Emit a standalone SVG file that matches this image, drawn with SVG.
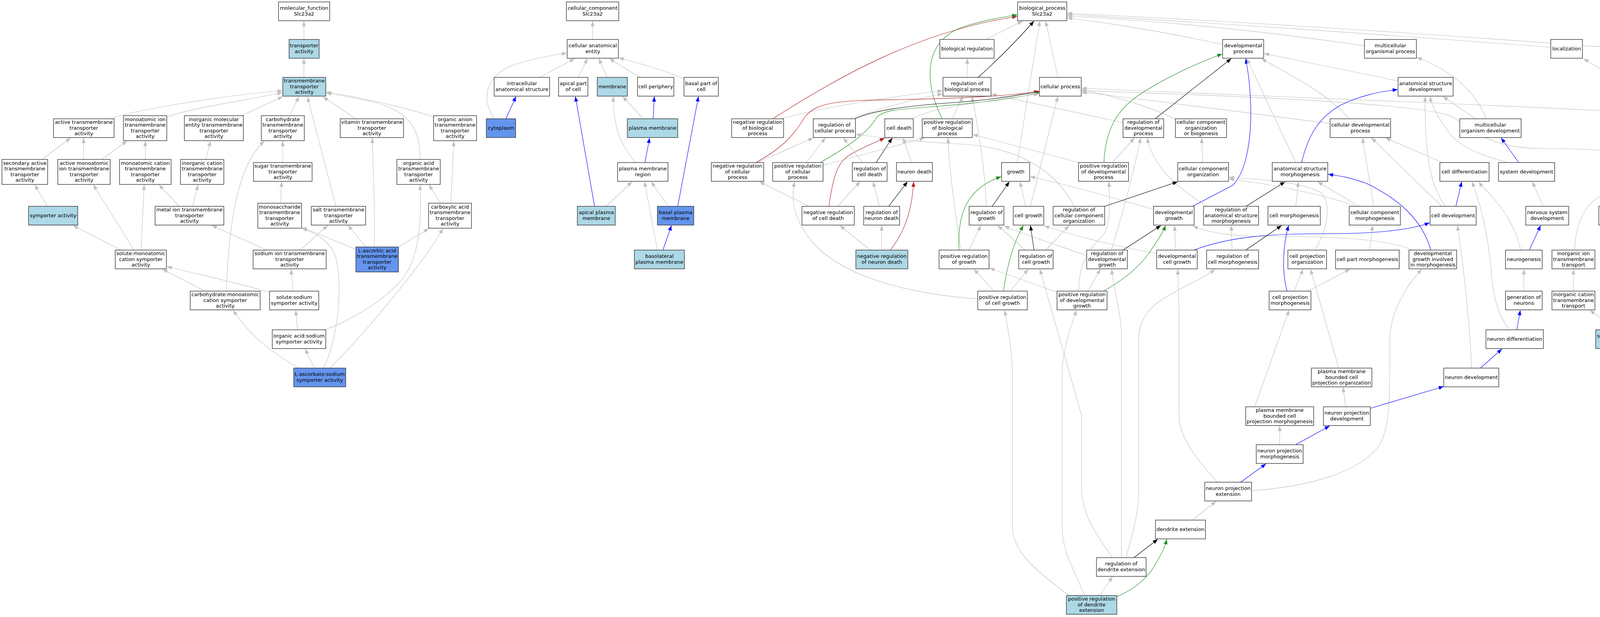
<svg xmlns="http://www.w3.org/2000/svg" width="5651" height="1579" viewBox="0 0 5651 1579">
<style>
.n rect{fill:#fff;stroke:#333;stroke-width:1.4}
.lb rect{fill:#add8e6}
.cb rect{fill:#6495ed}
text{font-family:"DejaVu Sans","Liberation Sans",sans-serif;font-size:13px;text-anchor:middle;fill:#000}
#edges path{fill:none;stroke-width:1.15}
.g{stroke:#c0c0c0;marker-end:url(#ag)}
.k{stroke:#000;marker-end:url(#ak)}
.b{stroke:#0000ff;marker-end:url(#ab)}
.gr{stroke:#228b22;marker-end:url(#agr)}
.r{stroke:#b22222;marker-end:url(#ar)}
</style>
<defs>
<marker id="ag" viewBox="0 0 13 10" refX="13" refY="5" markerWidth="13" markerHeight="10" markerUnits="userSpaceOnUse" orient="auto"><path d="M0,0L13,5L0,10z" fill="#c0c0c0"/></marker>
<marker id="ak" viewBox="0 0 13 10" refX="13" refY="5" markerWidth="13" markerHeight="10" markerUnits="userSpaceOnUse" orient="auto"><path d="M0,0L13,5L0,10z" fill="#000"/></marker>
<marker id="ab" viewBox="0 0 13 10" refX="13" refY="5" markerWidth="13" markerHeight="10" markerUnits="userSpaceOnUse" orient="auto"><path d="M0,0L13,5L0,10z" fill="#0000ff"/></marker>
<marker id="agr" viewBox="0 0 13 10" refX="13" refY="5" markerWidth="13" markerHeight="10" markerUnits="userSpaceOnUse" orient="auto"><path d="M0,0L13,5L0,10z" fill="#228b22"/></marker>
<marker id="ar" viewBox="0 0 13 10" refX="13" refY="5" markerWidth="13" markerHeight="10" markerUnits="userSpaceOnUse" orient="auto"><path d="M0,0L13,5L0,10z" fill="#b22222"/></marker>
</defs>
<rect x="0" y="0" width="5651" height="1579" fill="#fff"/>
<g id="edges">
<path class="g" d="M778,101 L778,54"/>
<path class="g" d="M778,198 L778,150"/>
<path class="g" d="M282,304 C330,285 560,245 723,232"/>
<path class="g" d="M428,300 C470,280 620,258 723,237"/>
<path class="g" d="M618,296 L724,247"/>
<path class="g" d="M742,296 L765,247"/>
<path class="g" d="M860,528 L787,248"/>
<path class="g" d="M911,304 L827,248"/>
<path class="g" d="M1112,299 C1020,270 900,245 835,236"/>
<path class="g" d="M1075,408 C1080,320 1030,280 960,262 C910,250 860,242 835,238"/>
<path class="g" d="M107,408 L181,353"/>
<path class="g" d="M214,408 L214,353"/>
<path class="g" d="M260,408 L325,361"/>
<path class="g" d="M372,408 L372,361"/>
<path class="g" d="M527,408 L539,361"/>
<path class="g" d="M724,416 L724,361"/>
<path class="g" d="M579,745 C587,560 610,420 677,361"/>
<path class="g" d="M121,528 L89,473"/>
<path class="g" d="M718,520 L721,465"/>
<path class="g" d="M459,528 L407,473"/>
<path class="g" d="M493,528 L507,473"/>
<path class="g" d="M309,640 L187,577"/>
<path class="g" d="M343,640 L239,473"/>
<path class="g" d="M361,640 L369,473"/>
<path class="g" d="M683,640 L542,577"/>
<path class="g" d="M769,640 L839,577"/>
<path class="g" d="M937,632 L891,577"/>
<path class="g" d="M911,638 L773,582"/>
<path class="g" d="M828,942 C860,880 880,750 860,660 C848,620 810,595 773,585"/>
<path class="g" d="M958,632 C960,520 955,420 953,353"/>
<path class="g" d="M525,745 L416,689"/>
<path class="g" d="M690,748 C600,722 500,700 427,682"/>
<path class="g" d="M750,745 L745,689"/>
<path class="g" d="M762,844 L757,794"/>
<path class="g" d="M805,942 L781,893"/>
<path class="g" d="M765,942 C700,905 640,860 597,794"/>
<path class="g" d="M844,942 C920,870 1080,680 1134,585"/>
<path class="g" d="M831,844 C900,820 1000,760 1040,700 C1075,640 1080,560 1075,473"/>
<path class="g" d="M1128,520 L1098,473"/>
<path class="g" d="M1154,520 L1162,361"/>
<path class="g" d="M1020,632 L1098,585"/>
<path class="g" d="M1517,101 L1517,54"/>
<path class="g" d="M1265,304 C1230,250 1245,195 1310,168 C1360,150 1420,140 1451,136"/>
<path class="g" d="M1381,198 L1471,150"/>
<path class="g" d="M1480,198 L1504,150"/>
<path class="g" d="M1554,198 L1533,150"/>
<path class="g" d="M1638,198 L1560,150"/>
<path class="g" d="M1750,201 C1700,180 1630,160 1584,148"/>
<path class="b" d="M1295,304 L1321,247"/>
<path class="b" d="M1522,528 L1473,247"/>
<path class="g" d="M1647,304 L1594,247"/>
<path class="b" d="M1672,304 L1675,247"/>
<path class="b" d="M1735,528 L1788,247"/>
<path class="b" d="M1651,416 L1663,353"/>
<path class="g" d="M1626,416 C1590,370 1570,330 1570,247"/>
<path class="g" d="M1552,528 L1618,465"/>
<path class="g" d="M1711,528 L1667,465"/>
<path class="b" d="M1697,640 L1719,577"/>
<path class="g" d="M1683,640 L1650,465"/>
<path class="g" d="M2523,101 L2618,54"/>
<path class="g" d="M2476,198 L2476,150"/>
<path class="k" d="M2504,198 Q2580,130 2647,54"/>
<path class="g" d="M2604,416 L2662,54"/>
<path class="g" d="M2708,198 L2677,54"/>
<path class="r" d="M1978,304 C2150,195 2350,80 2604,42"/>
<path class="gr" d="M2412,304 C2370,220 2360,120 2450,75 C2500,55 2560,45 2604,38"/>
<path class="g" d="M3130,114 C3000,85 2850,60 2732,46"/>
<path class="g" d="M3493,117 Q3100,60 2732,41"/>
<path class="g" d="M3970,121 Q3300,70 2732,37"/>
<path class="g" d="M5171,214 C4700,160 3500,70 2732,34"/>
<path class="g" d="M2000,304 C2100,275 2300,245 2413,232"/>
<path class="g" d="M2175,304 C2230,285 2330,255 2413,240"/>
<path class="g" d="M2437,304 L2465,247"/>
<path class="g" d="M2875,314 L2538,241"/>
<path class="g" d="M2525,528 C2522,440 2505,330 2488,247"/>
<path class="k" d="M2188,304 C2230,285 2300,272 2450,262 C2550,255 2620,240 2660,235"/>
<path class="r" d="M1935,416 C2000,380 2030,350 2060,300 C2090,260 2150,257 2300,255 C2450,252 2600,245 2660,233"/>
<path class="gr" d="M2100,416 C2180,370 2220,340 2245,300 C2265,280 2300,280 2400,272 C2520,262 2610,250 2660,237"/>
<path class="g" d="M2336,304 C2370,280 2500,262 2660,240"/>
<path class="g" d="M2638,528 L2708,247"/>
<path class="g" d="M3009,305 C2950,275 2850,245 2769,230"/>
<path class="g" d="M3405,316 C3200,290 2900,250 2769,236"/>
<path class="g" d="M4938,322 C4500,300 3300,245 2769,226"/>
<path class="g" d="M4284,416 C4200,390 4100,380 3950,380 C3820,380 3780,340 3720,300 C3650,260 3000,240 2769,232"/>
<path class="g" d="M2208,416 L2159,353"/>
<path class="g" d="M2064,416 L2113,353"/>
<path class="g" d="M1938,416 L2082,353"/>
<path class="g" d="M2750,528 C2700,430 2600,375 2450,368 C2330,362 2250,352 2191,344"/>
<path class="k" d="M2243,416 L2284,353"/>
<path class="g" d="M2333,416 L2312,353"/>
<path class="r" d="M2122,528 C2130,470 2140,420 2170,400 C2200,380 2240,365 2265,353"/>
<path class="g" d="M2107,423 L2367,353"/>
<path class="g" d="M2460,640 C2445,550 2430,430 2427,353"/>
<path class="g" d="M2762,416 L2490,344"/>
<path class="g" d="M2848,416 L2904,353"/>
<path class="g" d="M2845,640 C2870,560 2900,450 2920,353"/>
<path class="g" d="M3088,528 C3000,470 2950,420 2937,353"/>
<path class="g" d="M2144,528 L2202,465"/>
<path class="g" d="M2251,528 L2235,465"/>
<path class="k" d="M2275,528 L2323,465"/>
<path class="r" d="M2279,640 C2320,590 2335,530 2339,465"/>
<path class="g" d="M2071,528 L1944,465"/>
<path class="g" d="M2228,640 L2150,577"/>
<path class="g" d="M2257,640 L2257,577"/>
<path class="g" d="M2503,765 C2300,750 2150,700 2080,620 C2030,560 2025,510 2034,465"/>
<path class="gr" d="M2455,640 C2450,540 2480,480 2563,452"/>
<path class="k" d="M2540,528 L2584,465"/>
<path class="g" d="M2626,528 L2611,465"/>
<path class="g" d="M2953,536 C2850,505 2700,465 2637,452"/>
<path class="g" d="M2762,745 C2760,660 2800,630 2825,600 C2845,570 2840,520 2839,465"/>
<path class="gr" d="M2826,416 C2830,330 2860,280 2920,240 C2990,195 3070,160 3129,138"/>
<path class="g" d="M2480,640 L2511,577"/>
<path class="g" d="M2624,640 L2554,577"/>
<path class="g" d="M2782,654 C2700,625 2620,600 2571,578"/>
<path class="k" d="M2647,640 L2638,577"/>
<path class="gr" d="M2569,745 C2578,680 2595,620 2620,577"/>
<path class="g" d="M2961,648 C2850,630 2740,600 2673,578"/>
<path class="g" d="M2677,640 L2737,577"/>
<path class="k" d="M2828,528 L3015,465"/>
<path class="g" d="M2545,745 L2493,689"/>
<path class="g" d="M2707,748 L2533,686"/>
<path class="g" d="M2586,745 L2632,689"/>
<path class="g" d="M2848,1427 C2800,1360 2769,1310 2769,1250 L2769,1063 L2662,689"/>
<path class="g" d="M2871,1427 L2871,860 C2871,800 2850,740 2846,689"/>
<path class="k" d="M2875,640 L2972,577"/>
<path class="g" d="M2785,745 L2817,689"/>
<path class="gr" d="M2825,745 C2870,720 2910,690 2940,650 C2960,620 2975,600 2984,577"/>
<path class="g" d="M2737,1524 C2650,1460 2592,1410 2592,1350 L2592,960 C2592,900 2580,840 2572,794"/>
<path class="g" d="M2777,1524 C2750,1460 2719,1410 2719,1350 L2719,960 C2719,900 2740,840 2756,794"/>
<path class="g" d="M2815,1524 L2848,1476"/>
<path class="gr" d="M2859,1527 C2900,1510 2940,1480 2960,1440 C2975,1415 2982,1400 2987,1380"/>
<path class="k" d="M2903,1427 L2964,1380"/>
<path class="g" d="M2883,1427 C2900,1360 2915,1310 2915,1260 L2915,870 C2915,820 2940,790 2970,770 C3030,730 3080,715 3110,689"/>
<path class="k" d="M2957,304 L3152,150"/>
<path class="b" d="M3053,528 L3156,474 C3190,440 3203,360 3202,280 C3201,220 3195,180 3189,150"/>
<path class="g" d="M3317,416 L3192,150"/>
<path class="g" d="M3454,304 C3400,240 3300,190 3229,150"/>
<path class="g" d="M3579,207 L3236,137"/>
<path class="g" d="M3805,304 C3780,240 3720,180 3627,147"/>
<path class="g" d="M3777,304 L3694,247"/>
<path class="g" d="M3700,528 C3660,470 3648,400 3648,247"/>
<path class="g" d="M3860,416 C3800,400 3740,380 3710,340 C3680,300 3665,270 3661,247"/>
<path class="b" d="M3332,416 C3350,340 3380,300 3430,270 C3480,245 3530,235 3578,229"/>
<path class="g" d="M3517,528 L3488,353"/>
<path class="g" d="M3691,528 L3511,353"/>
<path class="g" d="M3693,416 L3547,353"/>
<path class="g" d="M3079,416 L3076,353"/>
<path class="k" d="M3190,528 L3290,465"/>
<path class="g" d="M3317,528 L3324,465"/>
<path class="g" d="M3479,528 L3373,465"/>
<path class="b" d="M3663,640 C3640,560 3580,510 3500,470 C3460,455 3430,450 3400,446"/>
<path class="b" d="M3727,528 L3742,465"/>
<path class="g" d="M3863,844 C3840,810 3825,780 3818,700 C3810,600 3790,520 3768,465"/>
<path class="g" d="M3893,640 C3880,580 3850,540 3830,515 C3810,490 3795,480 3786,465"/>
<path class="b" d="M3888,416 L3843,353"/>
<path class="g" d="M3367,640 C3400,580 3410,520 3380,492 C3330,465 3220,458 3146,454"/>
<path class="g" d="M3470,528 C3400,500 3250,470 3146,458"/>
<path class="g" d="M3010,640 L3007,577"/>
<path class="g" d="M3615,640 C3550,610 3400,605 3250,605 C3150,605 3090,595 3054,578"/>
<path class="g" d="M3154,640 L3152,577"/>
<path class="k" d="M3189,640 L3281,577"/>
<path class="b" d="M3295,745 C3282,700 3283,630 3299,577"/>
<path class="g" d="M3506,640 L3514,577"/>
<path class="b" d="M3056,640 C3150,605 3250,598 3400,598 C3550,598 3620,585 3660,570"/>
<path class="g" d="M3767,942 C3764,850 3750,700 3731,577"/>
<path class="g" d="M3313,745 L3336,689"/>
<path class="g" d="M3427,942 L3355,689"/>
<path class="g" d="M3348,745 L3456,689"/>
<path class="g" d="M3204,1256 C3350,1245 3480,1210 3530,1140 C3560,1100 3558,1000 3558,870 C3558,800 3600,730 3640,689"/>
<path class="g" d="M3212,1041 L3300,794"/>
<path class="g" d="M3445,1041 L3438,991"/>
<path class="b" d="M3508,1045 L3696,989"/>
<path class="g" d="M3276,1138 L3276,1090"/>
<path class="b" d="M3317,1138 L3404,1090"/>
<path class="b" d="M3176,1234 L3241,1187"/>
<path class="g" d="M3053,1331 L3113,1283"/>
<path class="g" d="M3116,1234 C3060,1170 3018,1120 3018,1060 L3018,780 L3015,689"/>
<path class="b" d="M3790,942 L3845,893"/>
<path class="b" d="M3883,844 L3892,794"/>
<path class="g" d="M3901,745 L3901,689"/>
<path class="b" d="M3915,640 L3944,577"/>
<path class="g" d="M3950,528 L3923,465"/>
<path class="g" d="M4132,198 L4054,150"/>
<path class="g" d="M4293,304 L4210,247"/>
<path class="g" d="M4223,416 L4298,353"/>
<path class="g" d="M4329,416 L4329,353"/>
<path class="g" d="M4437,416 L4364,353"/>
<path class="g" d="M4657,421 L4366,341"/>
<path class="g" d="M4166,528 L4183,465"/>
<path class="g" d="M4280,528 L4223,465"/>
<path class="g" d="M4310,528 L4321,465"/>
<path class="g" d="M4437,528 L4367,465"/>
<path class="g" d="M4468,528 L4468,465"/>
<path class="g" d="M4031,640 C4035,560 4060,500 4150,484 C4210,475 4250,470 4278,465"/>
<path class="g" d="M4602,640 C4600,560 4580,500 4500,486 C4440,478 4400,470 4380,465"/>
<path class="g" d="M4760,640 C4762,560 4750,495 4680,488 C4560,478 4420,472 4386,467"/>
<path class="g" d="M4682,528 L4706,465"/>
<path class="g" d="M4808,528 L4749,465"/>
<path class="g" d="M4904,530 L4776,465"/>
<path class="g" d="M4171,640 L4163,577"/>
<path class="g" d="M4290,640 L4198,577"/>
<path class="g" d="M4324,640 L4313,577"/>
<path class="g" d="M4028,745 L4028,689"/>
<path class="g" d="M4177,745 L4175,689"/>
<path class="g" d="M4210,844 C4250,810 4290,760 4316,689"/>
<path class="g" d="M4179,844 L4179,794"/>
<path class="g" d="M4142,844 L4070,794"/>
<path class="g" d="M4604,745 L4604,689"/>
<path class="g" d="M4620,640 L4656,577"/>
<path class="g" d="M4792,640 L4818,577"/>
<path class="g" d="M4755,745 L4755,689"/>
<path class="g" d="M4800,745 L4857,689"/>
<path class="g" d="M4604,844 L4604,794"/>
<path class="g" d="M4642,844 L4716,794"/>
<path class="g" d="M4575,844 C4530,790 4495,720 4471,577"/>
<path class="g" d="M4876,640 L4849,577"/>
<path class="g" d="M4901,640 L4933,577"/>
<path class="g" d="M5052,304 L5180,247"/>
<path class="g" d="M5233,304 L5233,247"/>
<path class="g" d="M5348,304 L5269,247"/>
<path class="g" d="M5494,306 L5297,244"/>
<path class="g" d="M4933,416 L4980,353"/>
<path class="g" d="M5184,416 L5050,353"/>
<path class="g" d="M5110,416 L5199,353"/>
<path class="g" d="M5233,416 L5233,353"/>
<path class="g" d="M5266,416 L5351,353"/>
<path class="g" d="M5382,416 L5382,353"/>
<path class="g" d="M5519,422 L5291,353"/>
<path class="g" d="M5577,416 L5565,353"/>
<path class="g" d="M5049,528 L4955,465"/>
<path class="g" d="M5082,528 L5078,465"/>
<path class="g" d="M5233,528 L5233,465"/>
<path class="g" d="M5504,528 L5560,465"/>
<path class="g" d="M5482,528 C5482,460 5470,400 5416,353"/>
<path class="g" d="M5233,640 L5233,577"/>
<path class="g" d="M5382,640 L5382,465"/>
<path class="g" d="M5245,752 C5180,730 5120,690 5105,640 C5098,615 5095,600 5093,577"/>
<path class="g" d="M5291,745 L5253,689"/>
<path class="g" d="M5325,745 L5359,689"/>
<path class="g" d="M5370,752 C5430,730 5480,690 5484,640 C5486,610 5485,595 5485,577"/>
</g>
<g id="nodes">
<g id="n1" class="n"><rect x="713" y="5" width="131" height="48"/><text><tspan x="778.5" y="25.2">molecular_function</tspan><tspan x="778.5" y="39.8">Slc23a2</tspan></text></g>
<g id="n2" class="n lb"><rect x="740" y="101" width="77" height="48"/><text><tspan x="778.5" y="121.2">transporter</tspan><tspan x="778.5" y="135.8">activity</tspan></text></g>
<g id="n3" class="n lb"><rect x="724" y="198" width="110" height="48"/><text><tspan x="779" y="210.9">transmembrane</tspan><tspan x="779" y="225.5">transporter</tspan><tspan x="779" y="240.1">activity</tspan></text></g>
<g id="n4" class="n"><rect x="137" y="304" width="155" height="48"/><text><tspan x="214.5" y="316.9">active transmembrane</tspan><tspan x="214.5" y="331.5">transporter</tspan><tspan x="214.5" y="346.1">activity</tspan></text></g>
<g id="n5" class="n"><rect x="316" y="296" width="111" height="64"/><text><tspan x="371.5" y="309.6">monoatomic ion</tspan><tspan x="371.5" y="324.2">transmembrane</tspan><tspan x="371.5" y="338.8">transporter</tspan><tspan x="371.5" y="353.4">activity</tspan></text></g>
<g id="n6" class="n"><rect x="472" y="296" width="151" height="64"/><text><tspan x="547.5" y="309.6">inorganic molecular</tspan><tspan x="547.5" y="324.2">entity transmembrane</tspan><tspan x="547.5" y="338.8">transporter</tspan><tspan x="547.5" y="353.4">activity</tspan></text></g>
<g id="n7" class="n"><rect x="669" y="296" width="110" height="64"/><text><tspan x="724" y="309.6">carbohydrate</tspan><tspan x="724" y="324.2">transmembrane</tspan><tspan x="724" y="338.8">transporter</tspan><tspan x="724" y="353.4">activity</tspan></text></g>
<g id="n8" class="n"><rect x="871" y="304" width="162" height="48"/><text><tspan x="952" y="316.9">vitamin transmembrane</tspan><tspan x="952" y="331.5">transporter</tspan><tspan x="952" y="346.1">activity</tspan></text></g>
<g id="n9" class="n"><rect x="1110" y="296" width="110" height="64"/><text><tspan x="1165" y="309.6">organic anion</tspan><tspan x="1165" y="324.2">transmembrane</tspan><tspan x="1165" y="338.8">transporter</tspan><tspan x="1165" y="353.4">activity</tspan></text></g>
<g id="n10" class="n"><rect x="5" y="408" width="117" height="64"/><text><tspan x="63.5" y="421.6">secondary active</tspan><tspan x="63.5" y="436.2">transmembrane</tspan><tspan x="63.5" y="450.8">transporter</tspan><tspan x="63.5" y="465.4">activity</tspan></text></g>
<g id="n11" class="n"><rect x="148" y="408" width="134" height="64"/><text><tspan x="215" y="421.6">active monoatomic</tspan><tspan x="215" y="436.2">ion transmembrane</tspan><tspan x="215" y="450.8">transporter</tspan><tspan x="215" y="465.4">activity</tspan></text></g>
<g id="n12" class="n"><rect x="306" y="408" width="132" height="64"/><text><tspan x="372" y="421.6">monoatomic cation</tspan><tspan x="372" y="436.2">transmembrane</tspan><tspan x="372" y="450.8">transporter</tspan><tspan x="372" y="465.4">activity</tspan></text></g>
<g id="n13" class="n"><rect x="462" y="408" width="111" height="64"/><text><tspan x="517.5" y="421.6">inorganic cation</tspan><tspan x="517.5" y="436.2">transmembrane</tspan><tspan x="517.5" y="450.8">transporter</tspan><tspan x="517.5" y="465.4">activity</tspan></text></g>
<g id="n14" class="n"><rect x="649" y="416" width="150" height="48"/><text><tspan x="724" y="428.9">sugar transmembrane</tspan><tspan x="724" y="443.5">transporter</tspan><tspan x="724" y="458.1">activity</tspan></text></g>
<g id="n15" class="n"><rect x="1016" y="408" width="111" height="64"/><text><tspan x="1071.5" y="421.6">organic acid</tspan><tspan x="1071.5" y="436.2">transmembrane</tspan><tspan x="1071.5" y="450.8">transporter</tspan><tspan x="1071.5" y="465.4">activity</tspan></text></g>
<g id="n16" class="n lb"><rect x="73" y="528" width="126" height="48"/><text><tspan x="136" y="555.5">symporter activity</tspan></text></g>
<g id="n17" class="n"><rect x="397" y="528" width="176" height="48"/><text><tspan x="485" y="540.9">metal ion transmembrane</tspan><tspan x="485" y="555.5">transporter</tspan><tspan x="485" y="570.1">activity</tspan></text></g>
<g id="n18" class="n"><rect x="660" y="520" width="112" height="64"/><text><tspan x="716" y="533.6">monosaccharide</tspan><tspan x="716" y="548.2">transmembrane</tspan><tspan x="716" y="562.8">transporter</tspan><tspan x="716" y="577.4">activity</tspan></text></g>
<g id="n19" class="n"><rect x="797" y="528" width="139" height="48"/><text><tspan x="866.5" y="540.9">salt transmembrane</tspan><tspan x="866.5" y="555.5">transporter</tspan><tspan x="866.5" y="570.1">activity</tspan></text></g>
<g id="n20" class="n"><rect x="1097" y="520" width="110" height="64"/><text><tspan x="1152" y="533.6">carboxylic acid</tspan><tspan x="1152" y="548.2">transmembrane</tspan><tspan x="1152" y="562.8">transporter</tspan><tspan x="1152" y="577.4">activity</tspan></text></g>
<g id="n21" class="n"><rect x="295" y="640" width="131" height="48"/><text><tspan x="360.5" y="652.9">solute:monoatomic</tspan><tspan x="360.5" y="667.5">cation symporter</tspan><tspan x="360.5" y="682.1">activity</tspan></text></g>
<g id="n22" class="n"><rect x="648" y="640" width="187" height="48"/><text><tspan x="741.5" y="652.9">sodium ion transmembrane</tspan><tspan x="741.5" y="667.5">transporter</tspan><tspan x="741.5" y="682.1">activity</tspan></text></g>
<g id="n23" class="n cb"><rect x="911" y="632" width="109" height="64"/><text><tspan x="965.5" y="645.6">L-ascorbic acid</tspan><tspan x="965.5" y="660.2">transmembrane</tspan><tspan x="965.5" y="674.8">transporter</tspan><tspan x="965.5" y="689.4">activity</tspan></text></g>
<g id="n24" class="n"><rect x="487" y="745" width="179" height="48"/><text><tspan x="576.5" y="757.9">carbohydrate:monoatomic</tspan><tspan x="576.5" y="772.5">cation symporter</tspan><tspan x="576.5" y="787.1">activity</tspan></text></g>
<g id="n25" class="n"><rect x="690" y="745" width="126" height="48"/><text><tspan x="753" y="765.2">solute:sodium</tspan><tspan x="753" y="779.8">symporter activity</tspan></text></g>
<g id="n26" class="n"><rect x="697" y="844" width="137" height="48"/><text><tspan x="765.5" y="864.2">organic acid:sodium</tspan><tspan x="765.5" y="878.8">symporter activity</tspan></text></g>
<g id="n27" class="n cb"><rect x="752" y="942" width="133" height="48"/><text><tspan x="818.5" y="962.2">L-ascorbate:sodium</tspan><tspan x="818.5" y="976.8">symporter activity</tspan></text></g>
<g id="n28" class="n"><rect x="1450" y="5" width="134" height="48"/><text><tspan x="1517" y="25.2">cellular_component</tspan><tspan x="1517" y="39.8">Slc23a2</tspan></text></g>
<g id="n29" class="n"><rect x="1452" y="101" width="131" height="48"/><text><tspan x="1517.5" y="121.2">cellular anatomical</tspan><tspan x="1517.5" y="135.8">entity</tspan></text></g>
<g id="n30" class="n"><rect x="1265" y="198" width="142" height="48"/><text><tspan x="1336" y="218.2">intracellular</tspan><tspan x="1336" y="232.8">anatomical structure</tspan></text></g>
<g id="n31" class="n"><rect x="1430" y="198" width="75" height="48"/><text><tspan x="1467.5" y="218.2">apical part</tspan><tspan x="1467.5" y="232.8">of cell</tspan></text></g>
<g id="n32" class="n lb"><rect x="1529" y="198" width="77" height="48"/><text><tspan x="1567.5" y="225.5">membrane</tspan></text></g>
<g id="n33" class="n"><rect x="1632" y="198" width="93" height="48"/><text><tspan x="1678.5" y="225.5">cell periphery</tspan></text></g>
<g id="n34" class="n"><rect x="1751" y="198" width="88" height="48"/><text><tspan x="1795" y="218.2">basal part of</tspan><tspan x="1795" y="232.8">cell</tspan></text></g>
<g id="n35" class="n cb"><rect x="1245" y="304" width="75" height="48"/><text><tspan x="1282.5" y="331.5">cytoplasm</tspan></text></g>
<g id="n36" class="n lb"><rect x="1606" y="304" width="129" height="48"/><text><tspan x="1670.5" y="331.5">plasma membrane</tspan></text></g>
<g id="n38" class="n"><rect x="1581" y="416" width="129" height="48"/><text><tspan x="1645.5" y="436.2">plasma membrane</tspan><tspan x="1645.5" y="450.8">region</tspan></text></g>
<g id="n40" class="n lb"><rect x="1478" y="528" width="97" height="48"/><text><tspan x="1526.5" y="548.2">apical plasma</tspan><tspan x="1526.5" y="562.8">membrane</tspan></text></g>
<g id="n41" class="n cb"><rect x="1683" y="528" width="93" height="48"/><text><tspan x="1729.5" y="548.2">basal plasma</tspan><tspan x="1729.5" y="562.8">membrane</tspan></text></g>
<g id="n42" class="n lb"><rect x="1624" y="640" width="128" height="48"/><text><tspan x="1688" y="660.2">basolateral</tspan><tspan x="1688" y="674.8">plasma membrane</tspan></text></g>
<g id="n37" class="n"><rect x="1873" y="304" width="133" height="48"/><text><tspan x="1939.5" y="316.9">negative regulation</tspan><tspan x="1939.5" y="331.5">of biological</tspan><tspan x="1939.5" y="346.1">process</tspan></text></g>
<g id="n39" class="n"><rect x="1821" y="416" width="134" height="48"/><text><tspan x="1888" y="428.9">negative regulation</tspan><tspan x="1888" y="443.5">of cellular</tspan><tspan x="1888" y="458.1">process</tspan></text></g>
<g id="n43" class="n"><rect x="2605" y="5" width="126" height="48"/><text><tspan x="2668" y="25.2">biological_process</tspan><tspan x="2668" y="39.8">Slc23a2</tspan></text></g>
<g id="n44" class="n"><rect x="2406" y="101" width="139" height="48"/><text><tspan x="2475.5" y="128.5">biological regulation</tspan></text></g>
<g id="n45" class="n"><rect x="2414" y="198" width="123" height="48"/><text><tspan x="2475.5" y="218.2">regulation of</tspan><tspan x="2475.5" y="232.8">biological process</tspan></text></g>
<g id="n46" class="n"><rect x="2661" y="198" width="107" height="48"/><text><tspan x="2714.5" y="225.5">cellular process</tspan></text></g>
<g id="n47" class="n"><rect x="2082" y="304" width="108" height="48"/><text><tspan x="2136" y="324.2">regulation of</tspan><tspan x="2136" y="338.8">cellular process</tspan></text></g>
<g id="n48" class="n"><rect x="2265" y="304" width="73" height="48"/><text><tspan x="2301.5" y="331.5">cell death</tspan></text></g>
<g id="n49" class="n"><rect x="2361" y="304" width="128" height="48"/><text><tspan x="2425" y="316.9">positive regulation</tspan><tspan x="2425" y="331.5">of biological</tspan><tspan x="2425" y="346.1">process</tspan></text></g>
<g id="n50" class="n"><rect x="2875" y="304" width="104" height="48"/><text><tspan x="2927" y="316.9">regulation of</tspan><tspan x="2927" y="331.5">developmental</tspan><tspan x="2927" y="346.1">process</tspan></text></g>
<g id="n51" class="n"><rect x="1978" y="416" width="129" height="48"/><text><tspan x="2042.5" y="428.9">positive regulation</tspan><tspan x="2042.5" y="443.5">of cellular</tspan><tspan x="2042.5" y="458.1">process</tspan></text></g>
<g id="n52" class="n"><rect x="2182" y="416" width="89" height="48"/><text><tspan x="2226.5" y="436.2">regulation of</tspan><tspan x="2226.5" y="450.8">cell death</tspan></text></g>
<g id="n53" class="n"><rect x="2295" y="416" width="92" height="48"/><text><tspan x="2341" y="443.5">neuron death</tspan></text></g>
<g id="n54" class="n"><rect x="2564" y="416" width="72" height="48"/><text><tspan x="2600" y="443.5">growth</tspan></text></g>
<g id="n55" class="n"><rect x="2761" y="416" width="128" height="48"/><text><tspan x="2825" y="428.9">positive regulation</tspan><tspan x="2825" y="443.5">of developmental</tspan><tspan x="2825" y="458.1">process</tspan></text></g>
<g id="n56" class="n"><rect x="2053" y="528" width="134" height="48"/><text><tspan x="2120" y="548.2">negative regulation</tspan><tspan x="2120" y="562.8">of cell death</tspan></text></g>
<g id="n57" class="n"><rect x="2211" y="528" width="92" height="48"/><text><tspan x="2257" y="548.2">regulation of</tspan><tspan x="2257" y="562.8">neuron death</tspan></text></g>
<g id="n58" class="n"><rect x="2481" y="528" width="89" height="48"/><text><tspan x="2525.5" y="548.2">regulation of</tspan><tspan x="2525.5" y="562.8">growth</tspan></text></g>
<g id="n59" class="n"><rect x="2594" y="528" width="78" height="48"/><text><tspan x="2633" y="555.5">cell growth</tspan></text></g>
<g id="n60" class="n"><rect x="2696" y="528" width="132" height="48"/><text><tspan x="2762" y="540.9">regulation of</tspan><tspan x="2762" y="555.5">cellular component</tspan><tspan x="2762" y="570.1">organization</tspan></text></g>
<g id="n61" class="n lb"><rect x="2191" y="640" width="133" height="48"/><text><tspan x="2257.5" y="660.2">negative regulation</tspan><tspan x="2257.5" y="674.8">of neuron death</tspan></text></g>
<g id="n62" class="n"><rect x="2404" y="640" width="128" height="48"/><text><tspan x="2468" y="660.2">positive regulation</tspan><tspan x="2468" y="674.8">of growth</tspan></text></g>
<g id="n63" class="n"><rect x="2608" y="640" width="88" height="48"/><text><tspan x="2652" y="660.2">regulation of</tspan><tspan x="2652" y="674.8">cell growth</tspan></text></g>
<g id="n64" class="n"><rect x="2782" y="640" width="104" height="48"/><text><tspan x="2834" y="652.9">regulation of</tspan><tspan x="2834" y="667.5">developmental</tspan><tspan x="2834" y="682.1">growth</tspan></text></g>
<g id="n65" class="n"><rect x="2503" y="745" width="127" height="48"/><text><tspan x="2566.5" y="765.2">positive regulation</tspan><tspan x="2566.5" y="779.8">of cell growth</tspan></text></g>
<g id="n66" class="n"><rect x="2706" y="745" width="128" height="48"/><text><tspan x="2770" y="757.9">positive regulation</tspan><tspan x="2770" y="772.5">of developmental</tspan><tspan x="2770" y="787.1">growth</tspan></text></g>
<g id="n67" class="n lb"><rect x="2730" y="1524" width="129" height="48"/><text><tspan x="2794.5" y="1536.9">positive regulation</tspan><tspan x="2794.5" y="1551.5">of dendrite</tspan><tspan x="2794.5" y="1566.1">extension</tspan></text></g>
<g id="n68" class="n"><rect x="2807" y="1427" width="127" height="48"/><text><tspan x="2870.5" y="1447.2">regulation of</tspan><tspan x="2870.5" y="1461.8">dendrite extension</tspan></text></g>
<g id="n69" class="n"><rect x="3130" y="101" width="105" height="48"/><text><tspan x="3182.5" y="121.2">developmental</tspan><tspan x="3182.5" y="135.8">process</tspan></text></g>
<g id="n70" class="n"><rect x="3493" y="101" width="133" height="48"/><text><tspan x="3559.5" y="121.2">multicellular</tspan><tspan x="3559.5" y="135.8">organismal process</tspan></text></g>
<g id="n71" class="n"><rect x="3579" y="198" width="141" height="48"/><text><tspan x="3649.5" y="218.2">anatomical structure</tspan><tspan x="3649.5" y="232.8">development</tspan></text></g>
<g id="n72" class="n"><rect x="3009" y="304" width="131" height="48"/><text><tspan x="3074.5" y="316.9">cellular component</tspan><tspan x="3074.5" y="331.5">organization</tspan><tspan x="3074.5" y="346.1">or biogenesis</tspan></text></g>
<g id="n73" class="n"><rect x="3405" y="304" width="155" height="48"/><text><tspan x="3482.5" y="324.2">cellular developmental</tspan><tspan x="3482.5" y="338.8">process</tspan></text></g>
<g id="n74" class="n"><rect x="3737" y="304" width="157" height="48"/><text><tspan x="3815.5" y="324.2">multicellular</tspan><tspan x="3815.5" y="338.8">organism development</tspan></text></g>
<g id="n75" class="n"><rect x="3015" y="416" width="130" height="48"/><text><tspan x="3080" y="436.2">cellular component</tspan><tspan x="3080" y="450.8">organization</tspan></text></g>
<g id="n76" class="n"><rect x="3257" y="416" width="142" height="48"/><text><tspan x="3328" y="436.2">anatomical structure</tspan><tspan x="3328" y="450.8">morphogenesis</tspan></text></g>
<g id="n77" class="n"><rect x="3686" y="416" width="126" height="48"/><text><tspan x="3749" y="443.5">cell differentiation</tspan></text></g>
<g id="n78" class="n"><rect x="3836" y="416" width="144" height="48"/><text><tspan x="3908" y="443.5">system development</tspan></text></g>
<g id="n79" class="n"><rect x="2953" y="528" width="104" height="48"/><text><tspan x="3005" y="548.2">developmental</tspan><tspan x="3005" y="562.8">growth</tspan></text></g>
<g id="n80" class="n"><rect x="3081" y="528" width="141" height="48"/><text><tspan x="3151.5" y="540.9">regulation of</tspan><tspan x="3151.5" y="555.5">anatomical structure</tspan><tspan x="3151.5" y="570.1">morphogenesis</tspan></text></g>
<g id="n81" class="n"><rect x="3246" y="528" width="134" height="48"/><text><tspan x="3313" y="555.5">cell morphogenesis</tspan></text></g>
<g id="n82" class="n"><rect x="3454" y="528" width="131" height="48"/><text><tspan x="3519.5" y="548.2">cellular component</tspan><tspan x="3519.5" y="562.8">morphogenesis</tspan></text></g>
<g id="n83" class="n"><rect x="3661" y="528" width="118" height="48"/><text><tspan x="3720" y="555.5">cell development</tspan></text></g>
<g id="n84" class="n"><rect x="2961" y="640" width="104" height="48"/><text><tspan x="3013" y="660.2">developmental</tspan><tspan x="3013" y="674.8">cell growth</tspan></text></g>
<g id="n85" class="n"><rect x="3089" y="640" width="133" height="48"/><text><tspan x="3155.5" y="660.2">regulation of</tspan><tspan x="3155.5" y="674.8">cell morphogenesis</tspan></text></g>
<g id="n86" class="n"><rect x="3297" y="640" width="99" height="48"/><text><tspan x="3346.5" y="660.2">cell projection</tspan><tspan x="3346.5" y="674.8">organization</tspan></text></g>
<g id="n87" class="n"><rect x="3419" y="640" width="163" height="48"/><text><tspan x="3500.5" y="667.5">cell part morphogenesis</tspan></text></g>
<g id="n88" class="n"><rect x="3607" y="640" width="122" height="48"/><text><tspan x="3668" y="652.9">developmental</tspan><tspan x="3668" y="667.5">growth involved</tspan><tspan x="3668" y="682.1">in morphogenesis</tspan></text></g>
<g id="n89" class="n"><rect x="3249" y="745" width="107" height="48"/><text><tspan x="3302.5" y="765.2">cell projection</tspan><tspan x="3302.5" y="779.8">morphogenesis</tspan></text></g>
<g id="n90" class="n"><rect x="3357" y="942" width="155" height="48"/><text><tspan x="3434.5" y="954.9">plasma membrane</tspan><tspan x="3434.5" y="969.5">bounded cell</tspan><tspan x="3434.5" y="984.1">projection organization</tspan></text></g>
<g id="n91" class="n"><rect x="3696" y="942" width="141" height="48"/><text><tspan x="3766.5" y="969.5">neuron development</tspan></text></g>
<g id="n92" class="n"><rect x="3189" y="1041" width="174" height="48"/><text><tspan x="3276" y="1053.9">plasma membrane</tspan><tspan x="3276" y="1068.5">bounded cell</tspan><tspan x="3276" y="1083.1">projection morphogenesis</tspan></text></g>
<g id="n93" class="n"><rect x="3388" y="1041" width="120" height="48"/><text><tspan x="3448" y="1061.2">neuron projection</tspan><tspan x="3448" y="1075.8">development</tspan></text></g>
<g id="n94" class="n"><rect x="3216" y="1138" width="120" height="48"/><text><tspan x="3276" y="1158.2">neuron projection</tspan><tspan x="3276" y="1172.8">morphogenesis</tspan></text></g>
<g id="n95" class="n"><rect x="3084" y="1234" width="120" height="48"/><text><tspan x="3144" y="1254.2">neuron projection</tspan><tspan x="3144" y="1268.8">extension</tspan></text></g>
<g id="n96" class="n"><rect x="2958" y="1331" width="128" height="48"/><text><tspan x="3022" y="1358.5">dendrite extension</tspan></text></g>
<g id="n97" class="n"><rect x="3804" y="844" width="147" height="48"/><text><tspan x="3877.5" y="871.5">neuron differentiation</tspan></text></g>
<g id="n98" class="n"><rect x="3970" y="101" width="81" height="48"/><text><tspan x="4010.5" y="128.5">localization</tspan></text></g>
<g id="n99" class="n"><rect x="4121" y="198" width="99" height="48"/><text><tspan x="4170.5" y="218.2">establishment</tspan><tspan x="4170.5" y="232.8">of localization</tspan></text></g>
<g id="n100" class="n"><rect x="4293" y="304" width="72" height="48"/><text><tspan x="4329" y="331.5">transport</tspan></text></g>
<g id="n101" class="n lb"><rect x="4137" y="416" width="112" height="48"/><text><tspan x="4193" y="436.2">monoatomic ion</tspan><tspan x="4193" y="450.8">transport</tspan></text></g>
<g id="n102" class="n lb"><rect x="4274" y="416" width="110" height="48"/><text><tspan x="4329" y="436.2">transmembrane</tspan><tspan x="4329" y="450.8">transport</tspan></text></g>
<g id="n103" class="n"><rect x="4409" y="416" width="118" height="48"/><text><tspan x="4468" y="443.5">vitamin transport</tspan></text></g>
<g id="n104" class="n"><rect x="4657" y="416" width="123" height="48"/><text><tspan x="4718.5" y="436.2">organic substance</tspan><tspan x="4718.5" y="450.8">transport</tspan></text></g>
<g id="n105" class="n"><rect x="3906" y="528" width="110" height="48"/><text><tspan x="3961" y="548.2">nervous system</tspan><tspan x="3961" y="562.8">development</tspan></text></g>
<g id="n106" class="n"><rect x="4093" y="528" width="132" height="48"/><text><tspan x="4159" y="548.2">monoatomic cation</tspan><tspan x="4159" y="562.8">transport</tspan></text></g>
<g id="n107" class="n"><rect x="4249" y="528" width="113" height="48"/><text><tspan x="4305.5" y="540.9">monoatomic ion</tspan><tspan x="4305.5" y="555.5">transmembrane</tspan><tspan x="4305.5" y="570.1">transport</tspan></text></g>
<g id="n108" class="n"><rect x="4386" y="528" width="164" height="48"/><text><tspan x="4468" y="548.2">vitamin transmembrane</tspan><tspan x="4468" y="562.8">transport</tspan></text></g>
<g id="n109" class="n"><rect x="4626" y="528" width="92" height="48"/><text><tspan x="4672" y="548.2">carbohydrate</tspan><tspan x="4672" y="562.8">transport</tspan></text></g>
<g id="n110" class="n"><rect x="4794" y="528" width="85" height="48"/><text><tspan x="4836.5" y="548.2">organic acid</tspan><tspan x="4836.5" y="562.8">transport</tspan></text></g>
<g id="n111" class="n"><rect x="3854" y="640" width="94" height="48"/><text><tspan x="3901" y="667.5">neurogenesis</tspan></text></g>
<g id="n112" class="n"><rect x="3973" y="640" width="110" height="48"/><text><tspan x="4028" y="652.9">inorganic ion</tspan><tspan x="4028" y="667.5">transmembrane</tspan><tspan x="4028" y="682.1">transport</tspan></text></g>
<g id="n113" class="n"><rect x="4108" y="640" width="131" height="48"/><text><tspan x="4173.5" y="667.5">metal ion transport</tspan></text></g>
<g id="n114" class="n"><rect x="4264" y="640" width="131" height="48"/><text><tspan x="4329.5" y="652.9">monoatomic cation</tspan><tspan x="4329.5" y="667.5">transmembrane</tspan><tspan x="4329.5" y="682.1">transport</tspan></text></g>
<g id="n115" class="n"><rect x="4548" y="640" width="111" height="48"/><text><tspan x="4603.5" y="652.9">carbohydrate</tspan><tspan x="4603.5" y="667.5">transmembrane</tspan><tspan x="4603.5" y="682.1">transport</tspan></text></g>
<g id="n116" class="n"><rect x="4701" y="640" width="110" height="48"/><text><tspan x="4756" y="652.9">organic acid</tspan><tspan x="4756" y="667.5">transmembrane</tspan><tspan x="4756" y="682.1">transport</tspan></text></g>
<g id="n117" class="n"><rect x="4835" y="640" width="105" height="48"/><text><tspan x="4887.5" y="660.2">carboxylic acid</tspan><tspan x="4887.5" y="674.8">transport</tspan></text></g>
<g id="n118" class="n"><rect x="3854" y="745" width="94" height="48"/><text><tspan x="3901" y="765.2">generation of</tspan><tspan x="3901" y="779.8">neurons</tspan></text></g>
<g id="n119" class="n"><rect x="3973" y="745" width="110" height="48"/><text><tspan x="4028" y="757.9">inorganic cation</tspan><tspan x="4028" y="772.5">transmembrane</tspan><tspan x="4028" y="787.1">transport</tspan></text></g>
<g id="n120" class="n lb"><rect x="4108" y="745" width="141" height="48"/><text><tspan x="4178.5" y="772.5">sodium ion transport</tspan></text></g>
<g id="n121" class="n lb"><rect x="4547" y="745" width="114" height="48"/><text><tspan x="4604" y="757.9">monosaccharide</tspan><tspan x="4604" y="772.5">transmembrane</tspan><tspan x="4604" y="787.1">transport</tspan></text></g>
<g id="n122" class="n lb"><rect x="4700" y="745" width="111" height="48"/><text><tspan x="4755.5" y="757.9">carboxylic acid</tspan><tspan x="4755.5" y="772.5">transmembrane</tspan><tspan x="4755.5" y="787.1">transport</tspan></text></g>
<g id="n123" class="n lb"><rect x="4085" y="844" width="187" height="48"/><text><tspan x="4178.5" y="864.2">sodium ion transmembrane</tspan><tspan x="4178.5" y="878.8">transport</tspan></text></g>
<g id="n124" class="n cb"><rect x="4548" y="844" width="111" height="48"/><text><tspan x="4603.5" y="856.9">L-ascorbic acid</tspan><tspan x="4603.5" y="871.5">transmembrane</tspan><tspan x="4603.5" y="886.1">transport</tspan></text></g>
<g id="n125" class="n"><rect x="5171" y="198" width="125" height="48"/><text><tspan x="5233.5" y="225.5">metabolic process</tspan></text></g>
<g id="n126" class="n"><rect x="4938" y="304" width="123" height="48"/><text><tspan x="4999.5" y="324.2">cellular metabolic</tspan><tspan x="4999.5" y="338.8">process</tspan></text></g>
<g id="n127" class="n"><rect x="5171" y="304" width="125" height="48"/><text><tspan x="5233.5" y="324.2">organic substance</tspan><tspan x="5233.5" y="338.8">metabolic process</tspan></text></g>
<g id="n128" class="n"><rect x="5320" y="304" width="125" height="48"/><text><tspan x="5382.5" y="324.2">small molecule</tspan><tspan x="5382.5" y="338.8">metabolic process</tspan></text></g>
<g id="n129" class="n"><rect x="5494" y="304" width="126" height="48"/><text><tspan x="5557" y="324.2">primary metabolic</tspan><tspan x="5557" y="338.8">process</tspan></text></g>
<g id="n130" class="n"><rect x="4853" y="416" width="126" height="48"/><text><tspan x="4916" y="436.2">heterocycle</tspan><tspan x="4916" y="450.8">metabolic process</tspan></text></g>
<g id="n131" class="n"><rect x="5004" y="416" width="142" height="48"/><text><tspan x="5075" y="428.9">organic cyclic</tspan><tspan x="5075" y="443.5">compound metabolic</tspan><tspan x="5075" y="458.1">process</tspan></text></g>
<g id="n132" class="n"><rect x="5171" y="416" width="125" height="48"/><text><tspan x="5233.5" y="436.2">organic acid</tspan><tspan x="5233.5" y="450.8">metabolic process</tspan></text></g>
<g id="n133" class="n"><rect x="5320" y="416" width="125" height="48"/><text><tspan x="5382.5" y="436.2">vitamin metabolic</tspan><tspan x="5382.5" y="450.8">process</tspan></text></g>
<g id="n134" class="n"><rect x="5520" y="416" width="125" height="48"/><text><tspan x="5582.5" y="436.2">carbohydrate</tspan><tspan x="5582.5" y="450.8">metabolic process</tspan></text></g>
<g id="n135" class="n"><rect x="4904" y="528" width="94" height="48"/><text><tspan x="4951" y="548.2">organic anion</tspan><tspan x="4951" y="562.8">transport</tspan></text></g>
<g id="n136" class="n"><rect x="5023" y="528" width="122" height="48"/><text><tspan x="5084" y="548.2">lactone metabolic</tspan><tspan x="5084" y="562.8">process</tspan></text></g>
<g id="n137" class="n"><rect x="5171" y="528" width="125" height="48"/><text><tspan x="5233.5" y="548.2">oxoacid metabolic</tspan><tspan x="5233.5" y="562.8">process</tspan></text></g>
<g id="n138" class="n"><rect x="5420" y="528" width="125" height="48"/><text><tspan x="5482.5" y="548.2">monosaccharide</tspan><tspan x="5482.5" y="562.8">metabolic process</tspan></text></g>
<g id="n139" class="n"><rect x="5171" y="640" width="125" height="48"/><text><tspan x="5233.5" y="660.2">carboxylic acid</tspan><tspan x="5233.5" y="674.8">metabolic process</tspan></text></g>
<g id="n140" class="n"><rect x="5320" y="640" width="125" height="48"/><text><tspan x="5382.5" y="652.9">water-soluble</tspan><tspan x="5382.5" y="667.5">vitamin metabolic</tspan><tspan x="5382.5" y="682.1">process</tspan></text></g>
<g id="n141" class="n lb"><rect x="5245" y="745" width="125" height="48"/><text><tspan x="5307.5" y="765.2">L-ascorbic acid</tspan><tspan x="5307.5" y="779.8">metabolic process</tspan></text></g>
</g>
</svg>
